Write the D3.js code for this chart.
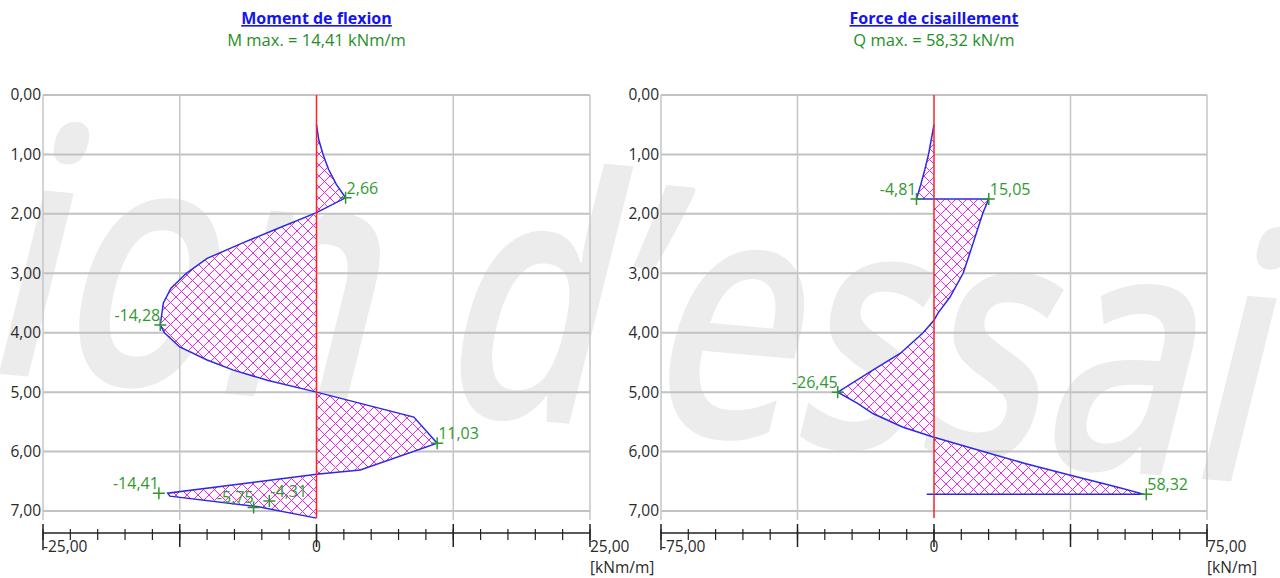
<!DOCTYPE html>
<html><head><meta charset="utf-8">
<script src="https://cdn.jsdelivr.net/npm/d3@7/dist/d3.min.js"></script>
<style>body{margin:0;background:#fff;} svg{display:block;}</style>
</head><body><svg id="c" width="1280" height="578"></svg>
<script>
// ---------- DATA ----------
const depthTicks = [0, 1, 2, 3, 4, 5, 6, 7];

// Bending moment diagram (depth [m], value [kNm/m])
const momentDepth = [0.50, 0.75, 1.00, 1.25, 1.50, 1.73, 1.98, 2.25, 2.50, 2.75, 3.00, 3.25, 3.50, 3.87, 4.00, 4.24, 4.46, 4.63, 4.80, 5.00, 5.42, 5.86, 6.31, 6.38, 6.70, 6.75, 6.93, 7.12];
const momentValue = [0.00, 0.20, 0.60, 1.10, 1.80, 2.66, 0.00, -3.60, -6.90, -10.00, -11.90, -13.30, -14.00, -14.28, -13.90, -12.50, -10.00, -7.60, -4.50, 0.00, 8.90, 11.03, 4.00, 0.00, -13.60, -13.40, -5.30, 0.00];
const momentMarkDepth = [1.73, 3.87, 5.86, 6.70, 6.94, 6.83];
const momentMarkValue = [2.66, -14.28, 11.03, -14.41, -5.75, -4.31];
const momentMarkSide  = ["right", "left", "right", "left", "left", "right"];

// Shear force diagram (depth [m], value [kN/m])
const shearDepth = [0.50, 1.00, 1.25, 1.50, 1.75, 1.75, 1.99, 2.56, 3.00, 3.40, 3.67, 3.79, 4.00, 4.35, 4.63, 5.00, 5.19, 5.36, 5.59, 5.76, 6.00, 6.20, 6.40, 6.60, 6.72, 6.72];
const shearValue = [0.00, -1.50, -2.50, -3.60, -4.81, 15.05, 13.40, 10.40, 8.00, 4.40, 1.10, 0.00, -3.00, -9.30, -16.80, -26.45, -21.00, -16.80, -8.50, 0.00, 13.50, 25.00, 37.50, 50.50, 57.80, -2.00];
const shearMarkDepth = [1.75, 1.75, 5.00, 6.72];
const shearMarkValue = [-4.81, 15.05, -26.45, 58.32];
const shearMarkSide  = ["left", "right", "left", "right"];

const momentDomain = [-25, 25];
const shearDomain = [-75, 75];
const momentTitle = "Moment de flexion";
const momentSub = "M max. = 14,41 kNm/m";
const momentUnit = "[kNm/m]";
const shearTitle = "Force de cisaillement";
const shearSub = "Q max. = 58,32 kN/m";
const shearUnit = "[kN/m]";
const watermark = "ion d\u2019essai";

// ---------- RENDER ----------
const loc = d3.formatLocale({decimal: ",", thousands: " ", grouping: [3], currency: ["", ""], minus: "-"});
const f2 = loc.format(".2f");
const svg = d3.select("#c");
const FONT = "'Open Sans', 'DejaVu Sans', sans-serif";

// watermark
svg.append("text")
  .attr("transform", "translate(-22,372) rotate(5) skewX(-9) scale(0.74,1)")
  .attr("font-family", FONT).attr("font-size", 345).attr("font-weight", 600)
  .attr("fill", "#ececec")
  .text(watermark);

const defs = svg.append("defs");
const P = 11;
const pat = defs.append("pattern").attr("id", "hatch")
  .attr("patternUnits", "userSpaceOnUse").attr("width", P).attr("height", P);
pat.append("rect").attr("width", P).attr("height", P).attr("fill", "#fffaff");
pat.append("path").attr("d", `M0,0L${P},${P}M${P},0L0,${P}`)
  .attr("stroke", "#e22ee2").attr("stroke-width", 1);

const y = d3.scaleLinear().domain([0, 7]).range([95, 511]);
const yBottom = y(7.15);

function drawPanel(cfg) {
  const x = d3.scaleLinear().domain(cfg.domain).range(cfg.range);
  const g = svg.append("g");
  const [d0, d1] = cfg.domain;
  const half = d1 / 2;
  const gridX = [d0, -half, half, d1];

  // titles
  const cx = x(0);
  g.append("text").attr("x", cx).attr("y", 24).attr("text-anchor", "middle")
    .attr("font-family", FONT).attr("font-size", 16).attr("font-weight", "bold")
    .attr("fill", "#1414ee").attr("text-decoration", "underline").text(cfg.title);
  g.append("text").attr("x", cx).attr("y", 46).attr("text-anchor", "middle")
    .attr("font-family", FONT).attr("font-size", 16.5)
    .attr("fill", "#1f8f1f").text(cfg.sub);

  // grid
  g.selectAll(".hg").data(depthTicks).join("line")
    .attr("x1", x(d0)).attr("x2", x(d1)).attr("y1", d => y(d)).attr("y2", d => y(d))
    .attr("stroke", "#c2c2c2").attr("stroke-width", 2);
  g.selectAll(".vg").data(gridX).join("line")
    .attr("x1", d => x(d)).attr("x2", d => x(d)).attr("y1", y(0)).attr("y2", yBottom)
    .attr("stroke", "#c6c6c6").attr("stroke-width", 1.5);

  // y axis labels
  const ya = d3.axisLeft(y).tickValues(depthTicks).tickSize(0).tickPadding(2).tickFormat(d => f2(d));
  const yg = g.append("g").attr("transform", `translate(${x(d0)},0)`).call(ya);
  yg.select(".domain").remove();
  yg.selectAll("text").attr("font-family", FONT).attr("font-size", 15.5).attr("fill", "#2a2a2a");

  // diagram
  const data = cfg.depth.map((d, i) => ({d, v: cfg.value[i]}));
  const area = d3.area().y(p => y(p.d)).x0(x(0)).x1(p => x(p.v));
  g.append("path").datum(data).attr("d", area).attr("fill", "url(#hatch)");
  const line = d3.line().y(p => y(p.d)).x(p => x(p.v));
  g.append("path").datum(data).attr("d", line).attr("fill", "none")
    .attr("stroke", "#2a2ae6").attr("stroke-width", 1.5);

  // zero line
  g.append("line").attr("x1", x(0)).attr("x2", x(0)).attr("y1", y(0)).attr("y2", yBottom - 2)
    .attr("stroke", "#ff2020").attr("stroke-width", 1.5);

  // marks
  const marks = cfg.markDepth.map((d, i) => ({d, v: cfg.markValue[i], side: cfg.markSide[i]}));
  const mg = g.selectAll(".mk").data(marks).join("g")
    .attr("transform", m => `translate(${x(m.v)},${y(m.d)})`);
  mg.append("path").attr("d", "M-6,0H6M0,-6V6").attr("stroke", "#2e952e").attr("stroke-width", 1.5);
  mg.append("text").attr("x", m => m.side === "right" ? 1 : 0).attr("y", -4)
    .attr("text-anchor", m => m.side === "right" ? "start" : "end")
    .attr("font-family", FONT).attr("font-size", 16).attr("fill", "#2f9a2f")
    .text(m => f2(m.v));

  // x axis
  const axY = 533;
  const step = d1 / 10;
  const minor = d3.range(d0, d1 + step / 2, step);
  const major = [d0, -half, 0, half, d1];
  g.append("line").attr("x1", x(d0)).attr("x2", x(d1)).attr("y1", axY).attr("y2", axY)
    .attr("stroke", "#222").attr("stroke-width", 1.5);
  g.selectAll(".mn").data(minor).join("line")
    .attr("x1", d => x(d)).attr("x2", d => x(d)).attr("y1", axY - 4).attr("y2", axY + 7)
    .attr("stroke", "#222").attr("stroke-width", 1.2);
  g.selectAll(".mj").data(major).join("line")
    .attr("x1", d => x(d)).attr("x2", d => x(d)).attr("y1", axY - 9).attr("y2", d => d === d0 ? axY + 17 : axY + 14)
    .attr("stroke", "#222").attr("stroke-width", 1.5);
  const xl = [{v: d0, a: "start", t: f2(d0)}, {v: 0, a: "middle", t: "0"}, {v: d1, a: "start", t: f2(d1)}];
  g.selectAll(".xl").data(xl).join("text")
    .attr("x", d => x(d.v)).attr("y", 552).attr("text-anchor", d => d.a)
    .attr("font-family", FONT).attr("font-size", 15.5).attr("fill", "#2a2a2a").text(d => d.t);
  g.append("text").attr("x", x(d1)).attr("y", 573).attr("font-family", FONT)
    .attr("font-size", 15.5).attr("fill", "#2a2a2a").text(cfg.unit);
}

drawPanel({domain: momentDomain, range: [43, 590], title: momentTitle, sub: momentSub, unit: momentUnit,
  depth: momentDepth, value: momentValue, markDepth: momentMarkDepth, markValue: momentMarkValue, markSide: momentMarkSide});
drawPanel({domain: shearDomain, range: [661, 1207], title: shearTitle, sub: shearSub, unit: shearUnit,
  depth: shearDepth, value: shearValue, markDepth: shearMarkDepth, markValue: shearMarkValue, markSide: shearMarkSide});
</script></body></html>
